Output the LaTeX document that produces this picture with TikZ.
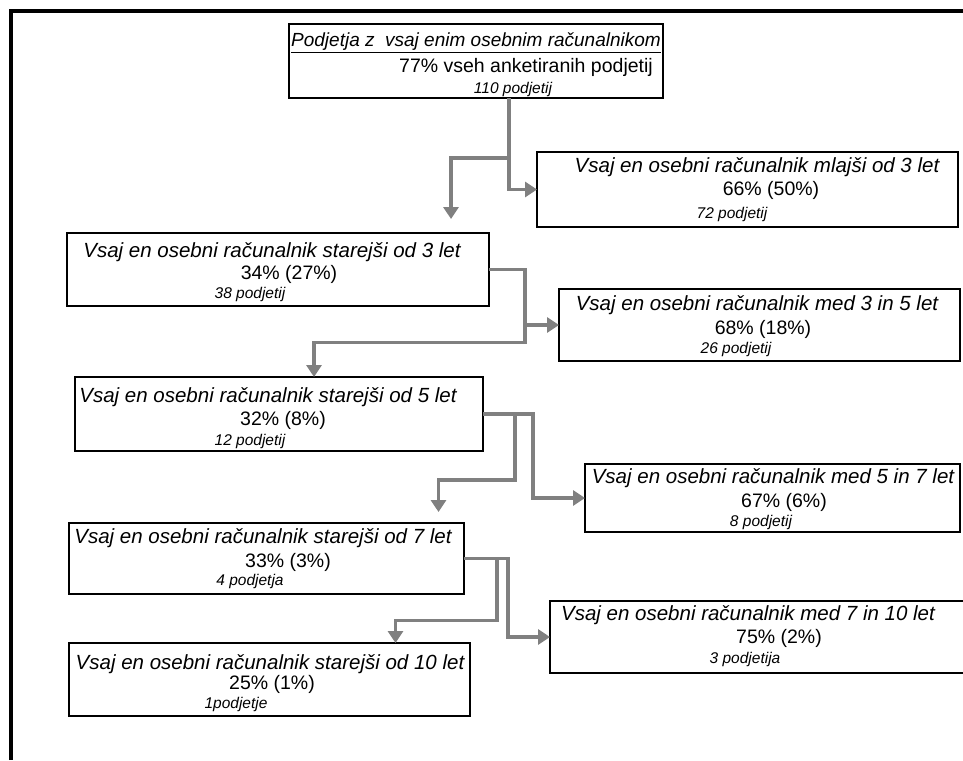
\documentclass[tikz,border=0pt]{standalone}
\usepackage{fontspec}
\setmainfont{Liberation Sans}
\usepackage{tikz}
\usetikzlibrary{arrows.meta,positioning}
\usepackage{xcolor}

\tikzset{
  okvir/.style={draw, line width=1.8pt, rectangle, inner sep=0pt, outer sep=0pt, anchor=north west},
  vrsta/.style={font=\fontsize{20.5}{24}\selectfont\itshape, inner sep=0pt, anchor=base},
  delez/.style={font=\fontsize{19.5}{23}\selectfont, inner sep=0pt, anchor=base},
  stevilo/.style={font=\fontsize{15.5}{18}\selectfont\itshape, inner sep=0pt, anchor=base},
  povezava/.style={draw=gray, line width=3.3pt, -{Triangle[length=12pt,width=15pt]}}
}

\begin{document}
\begin{tikzpicture}[x=1pt, y=-1pt]
      \useasboundingbox (0,0) rectangle (963,760);
      \draw[line width=4pt] (11,760) -- (11,11) -- (963,11);

      \node[okvir, minimum width=374pt, minimum height=74pt] (vsa) at (289,24) {};
      \node[okvir, minimum width=421pt, minimum height=75pt] (mlajsi3) at (537,152) {};
      \node[okvir, minimum width=422pt, minimum height=73pt] (starejsi3) at (67,233) {};
      \node[okvir, minimum width=401pt, minimum height=72pt] (med35) at (559,289) {};
      \node[okvir, minimum width=408pt, minimum height=74pt] (starejsi5) at (75,377) {};
      \node[okvir, minimum width=375pt, minimum height=68pt] (med57) at (585,464) {};
      \node[okvir, minimum width=395pt, minimum height=71pt] (starejsi7) at (69,523) {};
      \node[okvir, minimum width=430pt, minimum height=72pt] (med710) at (550,601) {};
      \node[okvir, minimum width=401pt, minimum height=73pt] (starejsi10) at (69,643) {};

      \node[vrsta, font=\fontsize{19}{23}\selectfont\itshape] (vsa1) at (476,47) {\underline{Podjetja z\ \ vsaj enim osebnim računalnikom}};
      \node[delez] (vsa2) at (526,72) {77\% vseh anketiranih podjetij};
      \node[stevilo] (vsa3) at (513,93) {110 podjetij};

      \node[vrsta] (mlajsi3a) at (757,172) {Vsaj en osebni računalnik mlajši od 3 let};
      \node[delez] (mlajsi3b) at (771,195) {66\% (50\%)};
      \node[stevilo] (mlajsi3c) at (732,218) {72 podjetij};

      \node[vrsta] (starejsi3a) at (272,257) {Vsaj en osebni računalnik starejši od 3 let};
      \node[delez] (starejsi3b) at (289,279) {34\% (27\%)};
      \node[stevilo] (starejsi3c) at (250,298) {38 podjetij};

      \node[vrsta] (med35a) at (757,310) {Vsaj en osebni računalnik med 3 in 5 let};
      \node[delez] (med35b) at (763,334) {68\% (18\%)};
      \node[stevilo] (med35c) at (736,353) {26 podjetij};

      \node[vrsta] (starejsi5a) at (268,402) {Vsaj en osebni računalnik starejši od 5 let};
      \node[delez] (starejsi5b) at (283,425) {32\% (8\%)};
      \node[stevilo] (starejsi5c) at (250,445) {12 podjetij};

      \node[vrsta] (med57a) at (773,483) {Vsaj en osebni računalnik med 5 in 7 let};
      \node[delez] (med57b) at (784,507) {67\% (6\%)};
      \node[stevilo] (med57c) at (761,526) {8 podjetij};

      \node[vrsta] (starejsi7a) at (263,543) {Vsaj en osebni računalnik starejši od 7 let};
      \node[delez] (starejsi7b) at (288,567) {33\% (3\%)};
      \node[stevilo] (starejsi7c) at (250,585) {4 podjetja};

      \node[vrsta] (med710a) at (748,620) {Vsaj en osebni računalnik med 7 in 10 let};
      \node[delez] (med710b) at (779,643) {75\% (2\%)};
      \node[stevilo] (med710c) at (745,663) {3 podjetija};

      \node[vrsta] (starejsi10a) at (270,669) {Vsaj en osebni računalnik starejši od 10 let};
      \node[delez] (starejsi10b) at (272,689) {25\% (1\%)};
      \node[stevilo] (starejsi10c) at (236,708) {1podjetje};

      \draw[povezava] ([xshift=33pt]vsa.south) |- (mlajsi3.west);
      \draw[povezava, shorten >=14pt] ([xshift=33pt]vsa.south) -- ++(0,60) -| ([xshift=173pt]starejsi3.north);

      \draw[povezava] (starejsi3.east) -- ++(36,0) |- (med35.west);
      \draw[povezava] (starejsi3.east) -- ++(36,0) -- ++(0,73) -| ([xshift=35pt]starejsi5.north);

      \draw[povezava] (starejsi5.east) -- ++(50,0) |- (med57.west);
      \draw[povezava, shorten >=11pt] (starejsi5.east) -- ++(32,0) -- ++(0,66) -| ([xshift=172pt]starejsi7.north);

      \draw[povezava] (starejsi7.east) -- ++(44,0) |- (med710.west);
      \draw[povezava] (starejsi7.east) -- ++(33,0) -- ++(0,62) -| ([xshift=126pt]starejsi10.north);
    \end{tikzpicture}
\end{document}
